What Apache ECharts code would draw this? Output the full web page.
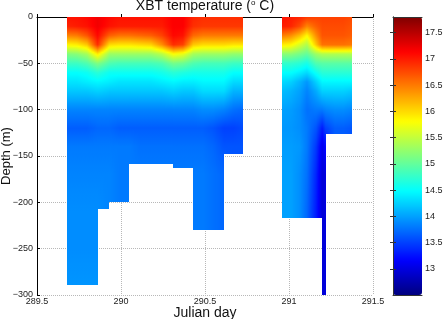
<!DOCTYPE html>
<html>
<head>
<meta charset="utf-8">
<title>XBT temperature</title>
<script src="https://cdn.jsdelivr.net/npm/echarts@6/dist/echarts.min.js"></script>
<style>
  html, body { margin: 0; padding: 0; background: #fff; }
  #chart { width: 446px; height: 319px; }
</style>
</head>
<body>
<div id="chart"></div>
<script>
// depth levels (m) at which each cast profile is given
const depthLevels = [0, 10, 20, 30, 40, 50, 60, 70, 80, 100, 120, 140, 170, 210, 250, 300]

// XBT casts: time (Julian day), section they belong to, deepest reading (m)
const castDay = [289.677, 289.738, 289.798, 289.861, 289.930, 289.988, 290.048, 290.113, 290.179,
                 290.244, 290.311, 290.369, 290.430, 290.488, 290.548, 290.613, 290.670, 290.728,
                 290.957, 291.012, 291.065, 291.107, 291.161, 291.198, 291.218, 291.274, 291.324, 291.375]
const castSection = [1, 1, 1, 1, 1, 1, 1, 1, 1, 1, 1, 1, 1, 1, 1, 1, 1, 1,
                     2, 2, 2, 2, 2, 2, 2, 2, 2, 2]
const castBottom = [289, 289, 289, 289, 207, 200, 200, 159, 159, 159, 163, 163, 230, 230, 230, 230, 148, 148,
                    217, 217, 217, 217, 217, 300, 300, 126, 126, 126]

// temperature (deg C) of each cast at depthLevels
const castTemps = [
  [17.05, 16.95, 16.45, 15.85, 15.15, 14.8, 14.5, 14.35, 14.2, 13.85, 13.65, 13.8, 13.85, 13.9, 13.9, 13.95],
  [17.05, 17.0, 16.5, 15.9, 15.2, 14.8, 14.5, 14.35, 14.2, 13.85, 13.65, 13.8, 13.85, 13.9, 13.9, 13.95],
  [17.1, 17.05, 16.7, 16.1, 15.35, 14.9, 14.55, 14.4, 14.2, 13.85, 13.65, 13.8, 13.85, 13.9, 13.9, 13.95],
  [17.2, 17.2, 17.1, 16.9, 15.9, 15.15, 14.7, 14.45, 14.25, 13.85, 13.7, 13.8, 13.85, 13.9, 13.9, 13.95],
  [17.1, 17.05, 16.65, 16.0, 15.3, 14.9, 14.55, 14.4, 14.2, 13.85, 13.7, 13.8, 13.85, 13.85],
  [17.05, 17.0, 16.55, 15.95, 15.3, 14.85, 14.55, 14.35, 14.2, 13.85, 13.65, 13.8, 13.8, 13.8],
  [17.05, 17.0, 16.55, 15.95, 15.3, 14.85, 14.55, 14.35, 14.2, 13.85, 13.65, 13.8, 13.8, 13.8],
  [17.05, 17.0, 16.6, 16.0, 15.3, 14.85, 14.55, 14.35, 14.2, 13.85, 13.65, 13.75, 13.8],
  [17.05, 17.0, 16.65, 16.05, 15.3, 14.85, 14.55, 14.35, 14.2, 13.85, 13.65, 13.75, 13.8],
  [17.05, 17.0, 16.8, 16.4, 15.45, 14.9, 14.6, 14.4, 14.2, 13.85, 13.65, 13.75, 13.8],
  [17.15, 17.15, 17.1, 16.9, 15.8, 15.1, 14.7, 14.45, 14.25, 13.85, 13.65, 13.75, 13.8],
  [17.15, 17.15, 17.05, 16.8, 15.7, 15.05, 14.65, 14.4, 14.2, 13.85, 13.65, 13.75, 13.8],
  [16.95, 16.9, 16.6, 16.1, 15.35, 14.9, 14.6, 14.4, 14.2, 13.85, 13.65, 13.75, 13.8, 13.8, 13.8],
  [16.9, 16.85, 16.5, 16.0, 15.3, 14.85, 14.6, 14.45, 14.3, 13.9, 13.65, 13.75, 13.8, 13.8, 13.8],
  [16.9, 16.85, 16.5, 16.0, 15.3, 14.85, 14.6, 14.45, 14.3, 13.9, 13.6, 13.7, 13.75, 13.75, 13.75],
  [16.9, 16.85, 16.5, 16.0, 15.3, 14.85, 14.6, 14.45, 14.3, 13.85, 13.5, 13.6, 13.7, 13.7, 13.7],
  [16.9, 16.85, 16.5, 15.95, 15.25, 14.8, 14.5, 14.3, 14.1, 13.75, 13.5, 13.6, 13.6],
  [16.9, 16.85, 16.5, 15.95, 15.25, 14.8, 14.5, 14.3, 14.1, 13.7, 13.55, 13.6, 13.6],
  [17.05, 17.0, 16.5, 15.9, 15.2, 14.75, 14.5, 14.3, 14.15, 14.0, 13.95, 13.98, 14.0, 14.0, 14.0],
  [17.0, 16.95, 16.4, 15.85, 15.2, 14.75, 14.5, 14.25, 14.1, 13.98, 13.95, 13.98, 14.0, 14.0, 14.0],
  [16.95, 16.75, 16.15, 15.6, 15.1, 14.7, 14.4, 14.1, 14.0, 13.9, 13.9, 13.95, 13.9, 13.9, 13.9],
  [16.85, 16.45, 15.85, 15.4, 15.0, 14.6, 14.3, 13.95, 13.85, 13.75, 13.8, 13.8, 13.75, 13.7, 13.7],
  [16.8, 16.65, 16.4, 16.1, 15.3, 14.9, 14.55, 14.25, 14.05, 13.8, 13.6, 13.45, 13.35, 13.3, 13.3],
  [16.8, 16.75, 16.7, 16.55, 15.4, 14.95, 14.7, 14.45, 14.25, 13.8, 13.3, 13.05, 12.95, 12.95, 12.95, 12.95],
  [16.8, 16.75, 16.7, 16.55, 15.4, 14.95, 14.7, 14.45, 14.25, 13.85, 13.5, 13.2, 13.0, 13.0, 13.0, 13.0],
  [16.8, 16.75, 16.7, 16.55, 15.4, 14.95, 14.7, 14.45, 14.25, 13.9, 13.65, 13.65],
  [16.8, 16.75, 16.7, 16.55, 15.4, 14.95, 14.7, 14.45, 14.25, 13.9, 13.65, 13.65],
  [16.75, 16.7, 16.65, 16.5, 15.4, 14.95, 14.7, 14.45, 14.2, 13.85, 13.6, 13.6]
]

const xTicks = [289.5, 290, 290.5, 291, 291.5]
const tempMin = 12.5
const tempMax = 17.8
// jet colormap
const jetColors = ['#00007f', '#0000ff', '#007fff', '#00ffff', '#7fff7f', '#ffff00', '#ff7f00', '#ff0000', '#7f0000']

const font = 'Liberation Sans, Arial, Helvetica, sans-serif'

function tempColor(t) {
  let n = (t - tempMin) / (tempMax - tempMin)
  n = Math.max(0, Math.min(1, n))
  return echarts.color.lerp(n, jetColors)
}

// one patch between each pair of neighbouring casts of the same section
let patches = []
for (let i = 0; i < castDay.length - 1; i++) {
  if (castSection[i] !== castSection[i + 1]) continue
  patches.push([castDay[i], castDay[i + 1], -Math.min(castBottom[i], castBottom[i + 1]), i])
}

// interpolated shading between the two casts of a patch (like pcolor + shading interp)
function renderPatch(params, api) {
  const i = api.value(3)
  const bottom = -api.value(2)
  const pA = api.coord([api.value(0), 0])
  const pB = api.coord([api.value(1), -bottom])
  const xa = Math.round(pA[0]), xb = Math.round(pB[0])
  const ya = Math.round(pA[1]), yb = Math.round(pB[1])
  const tA = castTemps[i], tB = castTemps[i + 1]
  const steps = 6
  let children = []
  for (let x = xa; x < xb; x++) {
    const f = Math.max(0, Math.min(1, (x + 0.5 - pA[0]) / (pB[0] - pA[0])))
    let stops = []
    for (let j = 0; depthLevels[j] < bottom; j++) {
      const d0 = depthLevels[j], d1 = depthLevels[j + 1]
      for (let k = 0; k <= steps; k++) {
        const d = Math.min(d0 + (d1 - d0) * k / steps, bottom)
        const g = (d - d0) / (d1 - d0)
        const t = (1 - f) * (tA[j] * (1 - g) + tA[j + 1] * g) + f * (tB[j] * (1 - g) + tB[j + 1] * g)
        stops.push({ offset: d / bottom, color: tempColor(t) })
        if (d >= bottom) break
      }
    }
    children.push({
      type: 'rect',
      shape: { x: x, y: ya, width: 1, height: yb - ya },
      style: { fill: { type: 'linear', x: 0, y: 0, x2: 0, y2: 1, colorStops: stops } }
    })
  }
  return { type: 'group', children: children }
}

let myChart = echarts.init(document.getElementById('chart'))

let option = {
  animation: false,
  textStyle: { fontFamily: font },
  title: {
    text: 'XBT temperature ({sup|o} C)',
    left: 205,
    textAlign: 'center',
    top: -1,
    padding: 0,
    textStyle: {
      fontSize: 14,
      fontWeight: 'normal',
      color: '#111',
      fontFamily: font,
      lineHeight: 15,
      rich: {
        sup: { fontSize: 8, verticalAlign: 'top', lineHeight: 15, color: '#111', fontFamily: font }
      }
    }
  },
  grid: [
    { left: 37, right: 73, top: 17, bottom: 24, outerBoundsMode: 'none', containLabel: false },
    { left: 393, top: 17, width: 29, height: 278, outerBoundsMode: 'none', containLabel: false }
  ],
  visualMap: {
    type: 'continuous',
    min: tempMin,
    max: tempMax,
    seriesIndex: [],
    calculable: false,
    hoverLink: false,
    orient: 'vertical',
    left: 393,
    top: 17,
    itemWidth: 29,
    itemHeight: 278,
    padding: 0,
    inRange: { color: jetColors }
  },
  xAxis: [
    {
      type: 'value',
      min: 289.5,
      max: 291.5,
      interval: 0.5,
      name: 'Julian day',
      nameLocation: 'middle',
      nameGap: 11,
      nameMoveOverlap: false,
      nameTextStyle: { fontSize: 14, color: '#111', fontFamily: font },
      axisLine: { lineStyle: { color: '#000', width: 1 } },
      axisTick: { inside: true, length: 3, lineStyle: { color: '#000' } },
      axisLabel: { fontSize: 9, color: '#222', margin: 2, fontFamily: font,
        formatter: v => xTicks.includes(v) ? String(v) : '' },
      splitLine: { show: true, lineStyle: { type: 'dotted', color: '#b8b8b8' } }
    },
    {
      gridIndex: 1, type: 'value', min: 0, max: 1, position: 'bottom', z: 10,
      axisLine: { lineStyle: { color: '#333' } },
      axisTick: { show: false }, axisLabel: { show: false }, splitLine: { show: false }
    },
    {
      gridIndex: 1, type: 'value', min: 0, max: 1, position: 'top', z: 10,
      axisLine: { lineStyle: { color: '#333' } },
      axisTick: { show: false }, axisLabel: { show: false }, splitLine: { show: false }
    }
  ],
  yAxis: [
    {
      type: 'value',
      min: -300,
      max: 0,
      interval: 50,
      name: 'Depth (m)',
      nameLocation: 'middle',
      nameGap: 24,
      nameMoveOverlap: false,
      nameTextStyle: { fontSize: 13, color: '#111', fontFamily: font },
      axisLine: { show: true, lineStyle: { color: '#000', width: 1 } },
      axisTick: { show: true, inside: true, length: 3, lineStyle: { color: '#000' } },
      axisLabel: { fontSize: 9, color: '#222', margin: 4, fontFamily: font,
        formatter: v => String(v).replace('-', '\u2212') },
      splitLine: { show: true, lineStyle: { type: 'dotted', color: '#b8b8b8' } }
    },
    {
      gridIndex: 1, type: 'value', min: tempMin, max: tempMax, splitNumber: 10,
      minInterval: 0.5, maxInterval: 0.5, position: 'right', z: 10,
      axisLine: { show: true, lineStyle: { color: '#333' } },
      axisTick: { show: true, inside: true, length: 3, lineStyle: { color: '#333' } },
      axisLabel: { fontSize: 9, color: '#222', margin: 3, fontFamily: font,
        showMinLabel: false, showMaxLabel: false },
      splitLine: { show: false }
    },
    {
      gridIndex: 1, type: 'value', min: tempMin, max: tempMax, splitNumber: 10,
      minInterval: 0.5, maxInterval: 0.5, position: 'left', z: 10,
      axisLine: { show: true, lineStyle: { color: '#333' } },
      axisTick: { show: true, inside: true, length: 3, lineStyle: { color: '#333' } },
      axisLabel: { show: false },
      splitLine: { show: false }
    }
  ],
  series: [
    {
      type: 'custom',
      xAxisIndex: 0,
      yAxisIndex: 0,
      clip: true,
      silent: true,
      encode: { x: [0, 1], y: 2 },
      data: patches,
      renderItem: renderPatch
    }
  ]
}

myChart.setOption(option)
</script>
</body>
</html>
